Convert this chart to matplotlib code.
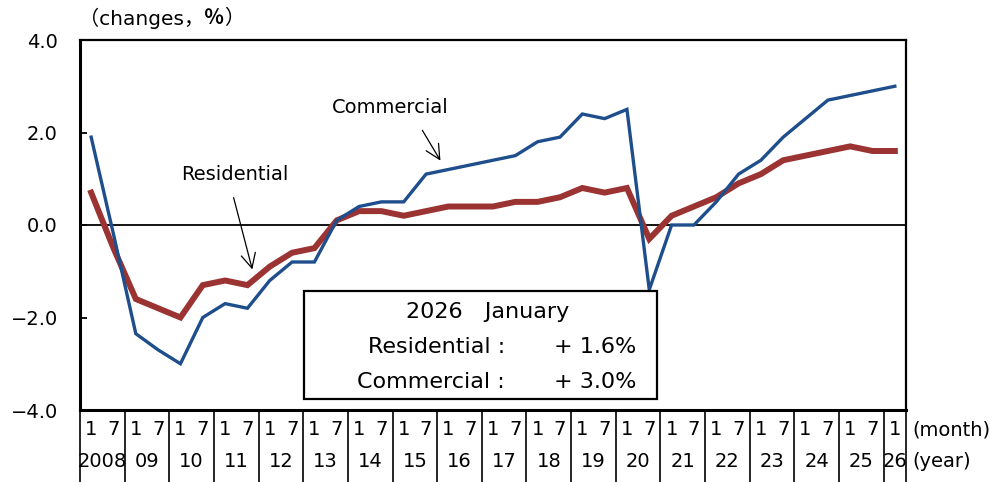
import matplotlib
matplotlib.use('Agg')

import numpy as np
import matplotlib.pyplot as plt
from matplotlib.patches import Rectangle

plt.rcParams['font.family'] = ['DejaVu Sans', 'Noto Sans CJK JP']

# half-yearly readings, Jan 2008 .. Jan 2026
years = list(range(2008, 2027))
year_labels = ['2008'] + ['%02d' % (y % 100) for y in years[1:]]
months = ['1', '7']

residential = [0.7, -0.5, -1.6, -1.8, -2.0, -1.3, -1.2, -1.3, -0.9, -0.6,
               -0.5, 0.1, 0.3, 0.3, 0.2, 0.3, 0.4, 0.4, 0.4, 0.5,
               0.5, 0.6, 0.8, 0.7, 0.8, -0.3, 0.2, 0.4, 0.6, 0.9,
               1.1, 1.4, 1.5, 1.6, 1.7, 1.6, 1.6]
commercial = [1.9, -0.2, -2.35, -2.7, -3.0, -2.0, -1.7, -1.8, -1.2, -0.8,
              -0.8, 0.1, 0.4, 0.5, 0.5, 1.1, 1.2, 1.3, 1.4, 1.5,
              1.8, 1.9, 2.4, 2.3, 2.5, -1.4, 0.0, 0.0, 0.5, 1.1,
              1.4, 1.9, 2.3, 2.7, 2.8, 2.9, 3.0]

n = len(residential)
x = np.arange(n) + 0.5

fig = plt.figure(figsize=(9.9, 4.82), dpi=100)
ax = fig.add_axes([80/990, 72/482, 826/990, 370/482])

ax.plot(x, commercial, color='#1f4e8c', lw=2.4, solid_joinstyle='miter', zorder=3)
ax.plot(x, residential, color='#9b3333', lw=4.3, solid_joinstyle='miter', zorder=2)
ax.axhline(0, color='black', lw=1.3, zorder=1)

ax.set_xlim(0, n)
ax.set_ylim(-4, 4)
ax.set_xticks([])
yt = [4, 2, 0, -2, -4]
ax.set_yticks(yt)
ax.set_yticklabels(['%.1f' % v if v >= 0 else '\u2212%.1f' % -v for v in yt], fontsize=14)
ax.tick_params(axis='y', length=5, width=1.3, direction='in', pad=16)
for side in ['left', 'bottom']:
    ax.spines[side].set_linewidth(2.2)
for side in ['top', 'right']:
    ax.spines[side].set_linewidth(1.6)

# month / year table under the plot
tr = ax.get_xaxis_transform()
bottom = -72/370
for b in list(range(0, n, 2)) + [n]:
    ax.plot([b, b], [0, bottom], color='black', lw=1.2, transform=tr, clip_on=False)
for i in range(n):
    ax.text(i + 0.5, -0.054, months[i % 2], transform=tr, ha='center', va='center', fontsize=14)
for k, lab in enumerate(year_labels):
    xc = 2*k + 1 if 2*k + 2 <= n else 2*k + 0.5
    ax.text(xc, -0.14, lab, transform=tr, ha='center', va='center', fontsize=14)
ax.text(1.008, -0.054, '(month)', transform=ax.transAxes, ha='left', va='center', fontsize=14)
ax.text(1.008, -0.14, '(year)', transform=ax.transAxes, ha='left', va='center', fontsize=14)

# unit label, with a heavier percent sign; pieces placed end to end
renderer = fig.canvas.get_renderer()
xpos = 79 / 990
for part, wt in [('（changes，', 'normal'), ('％', 'bold'), ('）', 'normal')]:
    t = fig.text(xpos, 1 - 18/482, part, ha='left', va='center', fontsize=14.5, fontweight=wt)
    xpos = fig.transFigure.inverted().transform((t.get_window_extent(renderer).x1, 0))[0]

# series labels
ax.text(6.94, 1.1, 'Residential', ha='center', va='center', fontsize=14)
ax.annotate('', xy=(7.75, -1.02), xytext=(6.85, 0.65),
            arrowprops=dict(arrowstyle='->', color='black', lw=0.9, mutation_scale=26))
ax.text(13.88, 2.55, 'Commercial', ha='center', va='center', fontsize=14)
ax.annotate('', xy=(16.21, 1.34), xytext=(15.27, 2.1),
            arrowprops=dict(arrowstyle='->', color='black', lw=0.9, mutation_scale=26))

# latest readings box
ax.add_patch(Rectangle((0.271, 0.03), 0.427, 0.292, transform=ax.transAxes,
                       facecolor='white', edgecolor='black', lw=1.6, zorder=4))
ax.text(0.493, 0.265, '2026\u3000January', transform=ax.transAxes, ha='center', va='center',
        fontsize=16, zorder=5)
ax.text(0.5145, 0.170, 'Residential :', transform=ax.transAxes, ha='right', va='center',
        fontsize=16, zorder=5)
ax.text(0.574, 0.170, '+ %.1f%%' % residential[-1], transform=ax.transAxes, ha='left',
        va='center', fontsize=16, zorder=5)
ax.text(0.5145, 0.076, 'Commercial :', transform=ax.transAxes, ha='right', va='center',
        fontsize=16, zorder=5)
ax.text(0.574, 0.076, '+ %.1f%%' % commercial[-1], transform=ax.transAxes, ha='left',
        va='center', fontsize=16, zorder=5)

plt.savefig('out.png', dpi=100)
